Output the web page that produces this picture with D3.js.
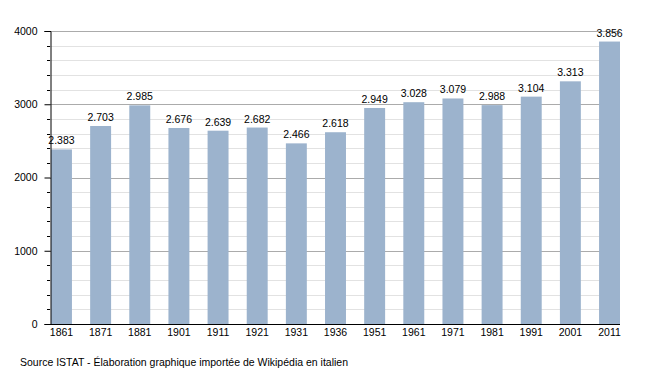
<html>
<style>
  body { margin:0; background:#fff; }
  text { font-family: "Liberation Sans", Arial, sans-serif; }
</style>
<script src="https://d3js.org/d3.v7.min.js" charset="utf-8"></script>
<body>
<div id="chart"></div>
<script>
    // data
    var years = ["1861","1871","1881","1901","1911","1921","1931","1936",
        "1951","1961","1971","1981","1991","2001","2011"];
    var population = [2383, 2703, 2985, 2676, 2639, 2682, 2466, 2618,
        2949, 3028, 3079, 2988, 3104, 3313, 3856];
    var yTicks = [0, 1000, 2000, 3000, 4000];
    var source = "Source ISTAT - Élaboration graphique importée de Wikipédia en italien";

    // layout
    var width = 650, height = 373;
    var plotLeft = 50, plotRight = 620, plotTop = 31, plotBottom = 324;
    var fontSize = "10.5px";

    var svg = d3.select("#chart").append("svg")
        .attr("width", width)
        .attr("height", height);

    var x = d3.scaleBand()
        .domain(years)
        .range([plotLeft + 1, plotRight])
        .paddingInner(0.465)
        .paddingOuter(0);

    var y = d3.scaleLinear()
        .domain([0, 4000])
        .range([plotBottom, plotTop]);

    // minor grid every 200
    var minor = d3.range(200, 4000, 200).filter(function(d){ return d % 1000 != 0; });
    svg.append("g").selectAll("line")
        .data(minor)
        .enter().append("line")
        .attr("x1", plotLeft).attr("x2", plotRight)
        .attr("y1", function(d){ return Math.round(y(d)) + 0.5; })
        .attr("y2", function(d){ return Math.round(y(d)) + 0.5; })
        .attr("stroke", "#e2e2e2");

    // major grid
    svg.append("g").selectAll("line")
        .data(yTicks.slice(1))
        .enter().append("line")
        .attr("x1", plotLeft).attr("x2", plotRight)
        .attr("y1", function(d){ return Math.round(y(d)) + 0.5; })
        .attr("y2", function(d){ return Math.round(y(d)) + 0.5; })
        .attr("stroke", "#ababab");

    // bars
    svg.append("g").selectAll("rect")
        .data(population)
        .enter().append("rect")
        .attr("x", function(d, i){ return x(years[i]); })
        .attr("y", function(d){ return y(d); })
        .attr("width", x.bandwidth())
        .attr("height", function(d){ return plotBottom - y(d); })
        .attr("fill", "#9cb3cd");

    // value labels
    var fmt = function(d){ return d3.format(",")(d).replace(",", "."); };
    svg.append("g").selectAll("text")
        .data(population)
        .enter().append("text")
        .attr("x", function(d, i){ return x(years[i]) + x.bandwidth() / 2; })
        .attr("y", function(d){ return y(d) - 5; })
        .attr("text-anchor", "middle")
        .attr("font-size", fontSize)
        .attr("fill", "#000")
        .text(fmt);

    // y axis
    var yAxis = d3.axisLeft(y).tickValues(yTicks).tickFormat(d3.format("d"))
        .tickSize(6).tickPadding(7);
    var gy = svg.append("g")
        .attr("transform", "translate(" + (plotLeft + 0.5) + ",0)")
        .call(yAxis);
    gy.select(".domain").attr("stroke", "#000");
    gy.selectAll("text").attr("font-size", fontSize)
        .attr("font-family", "Liberation Sans, Arial, sans-serif")
        .attr("fill", "#000");

    // minor ticks on y axis
    svg.append("g").selectAll("line")
        .data(minor)
        .enter().append("line")
        .attr("x1", plotLeft - 3).attr("x2", plotLeft)
        .attr("y1", function(d){ return Math.round(y(d)) + 0.5; })
        .attr("y2", function(d){ return Math.round(y(d)) + 0.5; })
        .attr("stroke", "#000");

    // x axis
    var xAxis = d3.axisBottom(x).tickSize(0).tickPadding(4);
    var gx = svg.append("g")
        .attr("transform", "translate(0," + (plotBottom + 0.5) + ")")
        .call(xAxis);
    gx.select(".domain").attr("d", "M" + plotLeft + ",0H" + plotRight).attr("stroke", "#000");
    gx.selectAll("text").attr("font-size", fontSize)
        .attr("font-family", "Liberation Sans, Arial, sans-serif")
        .attr("fill", "#000");

    // source
    svg.append("text")
        .attr("x", 20)
        .attr("y", 366)
        .attr("font-size", fontSize)
        .attr("fill", "#000")
        .text(source);
</script>
</body>
</html>
